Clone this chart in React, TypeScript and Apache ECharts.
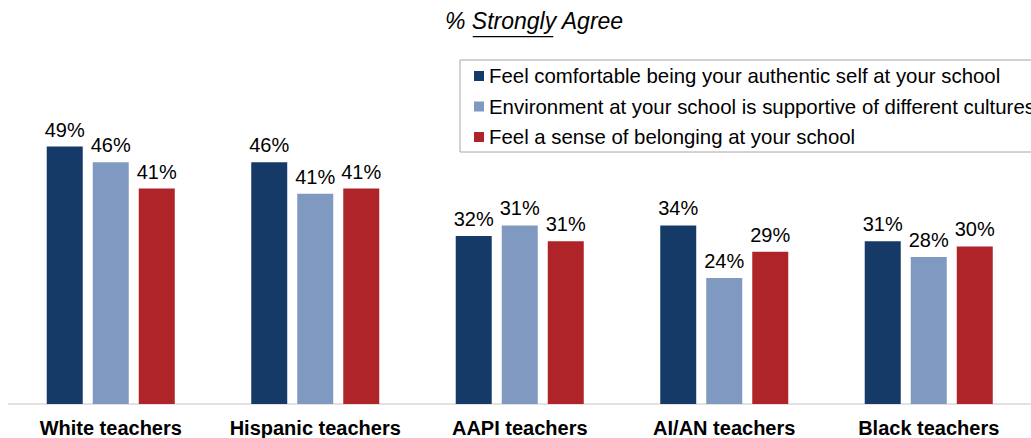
import React, { useEffect, useRef } from "react";
import * as echarts from "echarts";

const categories = ["White teachers", "Hispanic teachers", "AAPI teachers", "AI/AN teachers", "Black teachers"];
const seriesNames = [
  "Feel comfortable being your authentic self at your school",
  "Environment at your school is supportive of different cultures",
  "Feel a sense of belonging at your school",
];
// bar heights as drawn in the picture
const authenticSelf = [49, 46, 32, 34, 31];
const supportiveEnv = [46, 40, 34, 24, 28];
const belonging = [41, 41, 31, 29, 30];
// value labels as printed in the picture
const authenticSelfLabels = [49, 46, 32, 34, 31];
const supportiveEnvLabels = [46, 41, 31, 24, 28];
const belongingLabels = [41, 41, 31, 29, 30];

const colors = ["#163a68", "#7f99c0", "#ae2428"];
const FONT = "'Liberation Sans', Arial, Helvetica, sans-serif";

export default function App() {
  const ref = useRef<HTMLDivElement>(null);
  useEffect(() => {
    if (!ref.current) return;
    const chart = echarts.init(ref.current, undefined, { renderer: "svg" });
    const values = [authenticSelf, supportiveEnv, belonging];
    const labels = [authenticSelfLabels, supportiveEnvLabels, belongingLabels];
    chart.setOption({
      animation: false,
      textStyle: { fontFamily: FONT },
      grid: { left: 8.5, right: -7.5, top: 88.8, bottom: 33, containLabel: false },
      legend: {
        orient: "vertical",
        left: 460,
        top: 60,
        padding: [6, 60, 5, 14],
        borderColor: "#a6a6a6",
        borderWidth: 1,
        backgroundColor: "#fff",
        itemWidth: 10,
        itemHeight: 10,
        itemGap: 10.5,
        icon: "rect",
        selectedMode: false,
        textStyle: { fontSize: 20.4, color: "#000", fontFamily: FONT, lineHeight: 20 },
        data: seriesNames,
      },
      xAxis: {
        type: "category",
        data: categories,
        axisLine: { lineStyle: { color: "#d9d9d9", width: 1.5 } },
        axisTick: { show: false },
        axisLabel: { fontSize: 20, fontWeight: "bold", color: "#000", margin: 14, fontFamily: FONT, interval: 0 },
      },
      yAxis: { type: "value", min: 0, max: 60, show: false, splitLine: { show: false } },
      graphic: [
        {
          type: "text",
          left: 445,
          top: 9,
          style: { text: "% Strongly Agree", fill: "#000", font: `italic 23px ${FONT}` },
        },
        {
          type: "line",
          shape: { x1: 472.7, y1: 36.7, x2: 553.3, y2: 36.7 },
          style: { stroke: "#000", lineWidth: 1.3 },
        },
      ],
      series: seriesNames.map((name, i) => ({
        name,
        type: "bar",
        data: values[i],
        barWidth: 36,
        barGap: "27.8%",
        itemStyle: { color: colors[i] },
        label: {
          show: true,
          position: "top",
          distance: 7,
          fontSize: 20,
          color: "#000",
          fontFamily: FONT,
          formatter: (p: any) => `${labels[i][p.dataIndex]}%`,
        },
      })),
    });
    return () => chart.dispose();
  }, []);
  return <div ref={ref} style={{ position: "fixed", left: 0, top: 0, width: 1031, height: 438, background: "#fff" }} />;
}
